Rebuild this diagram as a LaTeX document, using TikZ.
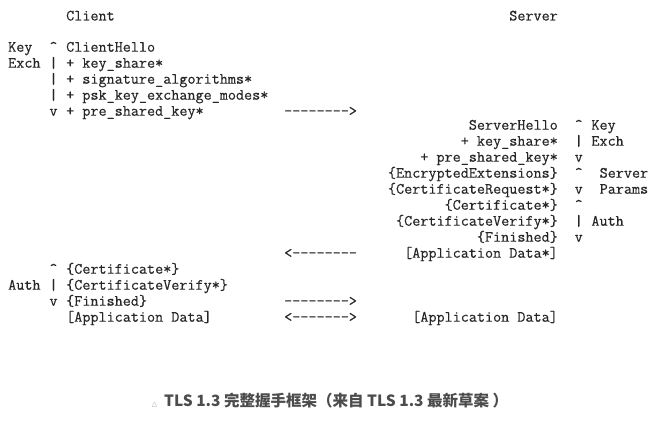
\documentclass[tikz,border=0pt]{standalone}
\usepackage{fontspec}
\newfontfamily\cjk{Noto Sans CJK SC}
\newfontfamily\symfont{DejaVu Sans}
\newfontfamily\msgfont{Latin Modern Mono}[FakeBold=0.35]
\usetikzlibrary{positioning}

\begin{document}
\begin{tikzpicture}[
    node distance=0pt,
    ln/.style={inner sep=0pt, text height=11pt, text depth=4.6pt,
               font=\msgfont\fontsize{15.7}{15.6}\selectfont, text=black!85},
    cmsg/.style={ln, anchor=north west},
    smsg/.style={ln, anchor=north east},
    brk/.style={ln},
    phase/.style={ln, anchor=north west},
    flow/.style={ln, anchor=north west},
    captxt/.style={inner sep=0pt, text=black!70,
                   font=\cjk\bfseries\fontsize{15.5}{17}\selectfont},
]
\path[use as bounding box, fill=white] (0,0) rectangle (660pt,-420pt);

% headings
\node[cmsg] (client) at (66pt,-9.3pt) {Client};
\node[smsg] (server) at (558pt,-9.3pt) {Server};

% client: key exchange
\node[cmsg] (chello) at (66pt,-40.5pt) {ClientHello};
\node[cmsg] (ckeysh) at (chello.south west) {+ key\_share*};
\node[cmsg] (csigalg) at (ckeysh.south west) {+ signature\_algorithms*};
\node[cmsg] (cpskmod) at (csigalg.south west) {+ psk\_key\_exchange\_modes*};
\node[cmsg] (cpsk) at (cpskmod.south west) {+ pre\_shared\_key*};
\node[brk, left=8.25pt of chello] (ck1) {\textasciicircum};
\node[brk, left=8.25pt of ckeysh] (ck2) {|};
\node[brk, left=8.25pt of csigalg] (ck3) {|};
\node[brk, left=8.25pt of cpskmod] (ck4) {|};
\node[brk, left=8.25pt of cpsk] (ck5) {v};
\node[phase] (ckey) at (8pt,0 |- chello.north) {Key};
\node[phase] (cexch) at (8pt,0 |- ckeysh.north) {Exch};
\node[flow] (fl1) at (284pt,0 |- cpsk.north) {-------->};

% server
\node[smsg] (shello) at (558pt,-118.5pt) {ServerHello};
\node[smsg] (skeysh) at (shello.south east) {+ key\_share*};
\node[smsg] (spsk) at (skeysh.south east) {+ pre\_shared\_key*};
\node[smsg] (sencext) at (spsk.south east) {\{EncryptedExtensions\}};
\node[smsg] (scertreq) at (sencext.south east) {\{CertificateRequest*\}};
\node[smsg] (scert) at (scertreq.south east) {\{Certificate*\}};
\node[smsg] (scertver) at (scert.south east) {\{CertificateVerify*\}};
\node[smsg] (sfin) at (scertver.south east) {\{Finished\}};
\node[smsg] (sapp) at (sfin.south east) {[Application Data*]};
\node[brk, right=16.5pt of shello] (sk1) {\textasciicircum};
\node[brk, right=16.5pt of skeysh] (sk2) {|};
\node[brk, right=16.5pt of spsk] (sk3) {v};
\node[brk, right=16.5pt of sencext] (sp1) {\textasciicircum};
\node[brk, right=16.5pt of scertreq] (sp2) {v};
\node[brk, right=16.5pt of scert] (sa1) {\textasciicircum};
\node[brk, right=16.5pt of scertver] (sa2) {|};
\node[brk, right=16.5pt of sfin] (sa3) {v};
\node[brk, right=8.25pt of sk1] (skey) {Key};
\node[brk, right=8.25pt of sk2] (sexch) {Exch};
\node[brk, right=16.5pt of sp1] (sserv) {Server};
\node[brk, right=16.5pt of sp2] (sparam) {Params};
\node[brk, right=8.25pt of sa2] (sauth) {Auth};
\node[flow] (fl2) at (284pt,0 |- sapp.north) {<--------};

% client: authentication
\node[cmsg] (ccert) at (66pt,0 |- sapp.south) {\{Certificate*\}};
\node[cmsg] (ccertver) at (ccert.south west) {\{CertificateVerify*\}};
\node[cmsg] (cfin) at (ccertver.south west) {\{Finished\}};
\node[cmsg] (capp) at (cfin.south west) {[Application Data]};
\node[brk, left=8.25pt of ccert] (ca1) {\textasciicircum};
\node[brk, left=8.25pt of ccertver] (ca2) {|};
\node[brk, left=8.25pt of cfin] (ca3) {v};
\node[phase] (cauth) at (8pt,0 |- ccertver.north) {Auth};
\node[flow] (fl3) at (284pt,0 |- cfin.north) {-------->};
\node[flow] (fl4) at (284pt,0 |- capp.north) {<------->};
\node[smsg] (sappd) at (sapp.south east |- capp.north) {[Application Data]};

% caption
\node[captxt] (caption) at (330pt,-401pt)
    {{\symfont\fontsize{7}{7}\selectfont\color{black!35}△}\hspace{7pt}TLS 1.3 完整握手框架（来自 TLS 1.3 最新草案 ）};
\end{tikzpicture}
\end{document}
